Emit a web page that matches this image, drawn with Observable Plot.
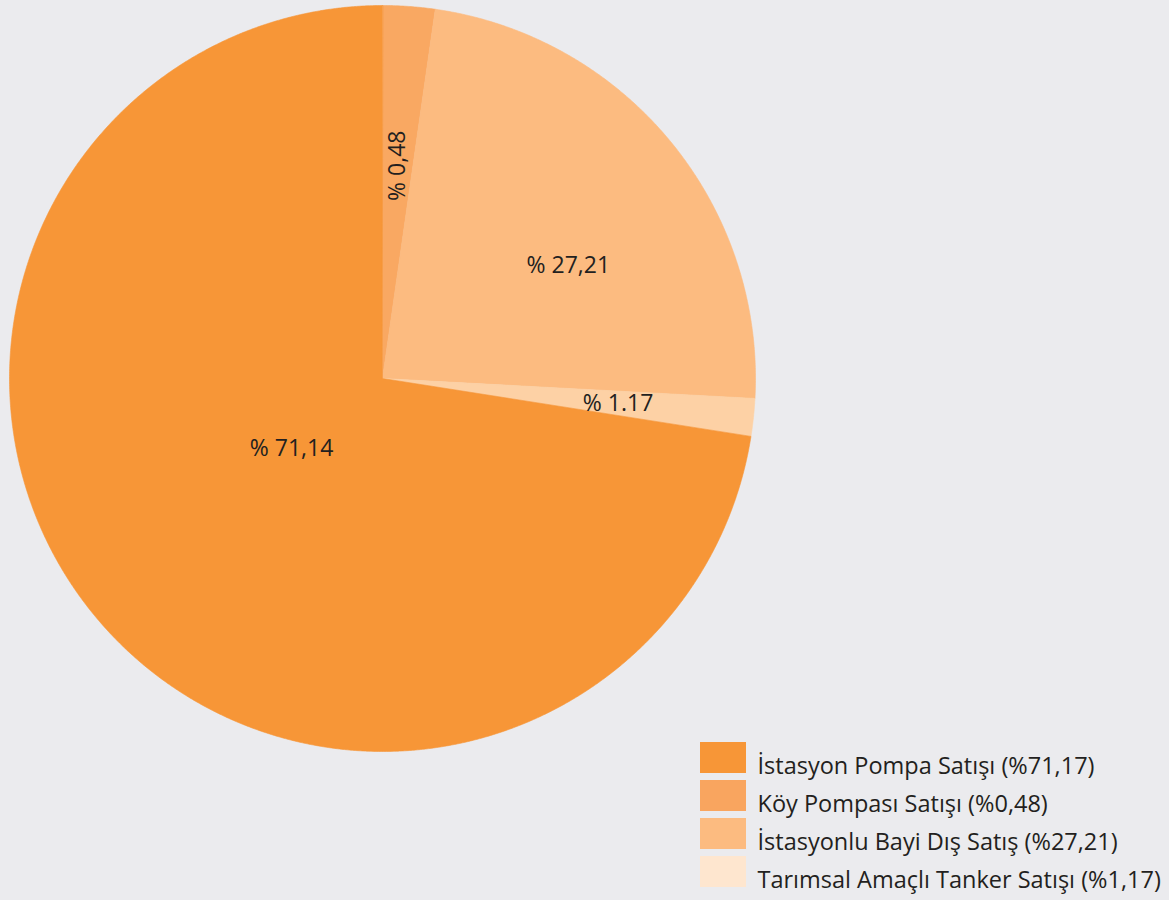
<!DOCTYPE html>
<html>
<head>
<meta charset="utf-8">
<script src="https://cdn.jsdelivr.net/npm/d3@7"></script>
<script src="https://cdn.jsdelivr.net/npm/@observablehq/plot@0.6"></script>
<style>
  html, body { margin: 0; padding: 0; background: #EBEBEE; }
  #chart svg { display: block; }
</style>
</head>
<body>
<div id="chart"></div>
<script>
// ---- data ----
const categories = ["İstasyon Pompa Satışı", "Köy Pompası Satışı", "İstasyonlu Bayi Dış Satış", "Tarımsal Amaçlı Tanker Satışı"];
const legendShares = ["%71,17", "%0,48", "%27,21", "%1,17"];
const sliceLabels = ["% 71,14", "% 0,48", "% 27,21", "% 1.17"];
// slice sizes as drawn in the picture (percent of the circle)
const drawnShares = [72.52, 2.26, 23.59, 1.63];
// drawing order, clockwise from 12 o'clock
const drawOrder = [1, 2, 3, 0];

// ---- style ----
const sliceColors = ["#F79637", "#F9A862", "#FCBB80", "#FDD1A5"];
const legendColors = ["#F79637", "#F9A55F", "#FCBB80", "#FEE6CF"];
const labelRadius = [0.308, 0.572, 0.583, 0.635];
const labelAngleOffset = [2.9, 0, 8.1, 0];
const labelRotate = [0, -90, 0, 0];

const cx = 382, cy = 378, R = 373;
const font = "'Open Sans', sans-serif";

// build slices
let acc = 0;
const slices = drawOrder.map(i => {
  const a0 = acc / 100 * 2 * Math.PI;
  acc += drawnShares[i];
  const a1 = acc / 100 * 2 * Math.PI;
  return {i, a0, a1};
});

const slicePts = slices.map(s => {
  const pts = [{x: cx, y: cy}];
  const n = Math.max(8, Math.ceil((s.a1 - s.a0) / (Math.PI / 720)));
  for (let k = 0; k <= n; k++) {
    const t = s.a0 + (s.a1 - s.a0) * k / n;
    pts.push({x: cx + R * Math.sin(t), y: cy - R * Math.cos(t)});
  }
  return {i: s.i, pts};
});

const labelData = slices.map(s => {
  const mid = (s.a0 + s.a1) / 2 + labelAngleOffset[s.i] * Math.PI / 180;
  const r = R * labelRadius[s.i];
  return {text: sliceLabels[s.i], x: cx + r * Math.sin(mid), y: cy - r * Math.cos(mid), rot: labelRotate[s.i]};
});

const legendData = categories.map((c, i) => ({name: c, text: `${c} (${legendShares[i]})`, i}));

const marks = [];
for (const s of slicePts) {
  marks.push(Plot.line(s.pts, {x: "x", y: "y", fill: sliceColors[s.i], stroke: sliceColors[s.i], strokeWidth: 0.6, curve: "linear-closed"}));
}
for (const L of labelData) {
  marks.push(Plot.text([L], {x: "x", y: "y", text: "text", rotate: L.rot, fontSize: 23, fill: "#231F20", fontFamily: font}));
}
marks.push(Plot.rect(legendData, {x1: 700, x2: 746, y1: d => 742 + d.i * 38, y2: d => 773 + d.i * 38, fill: d => legendColors[d.i]}));
marks.push(Plot.text(legendData, {x: 757, y: d => 773 + d.i * 38, text: "text", textAnchor: "start", lineAnchor: "bottom", fontSize: 23.5, fill: "#231F20", fontFamily: font}));

const chart = Plot.plot({
  width: 1169,
  height: 900,
  margin: 0,
  x: {type: "identity", axis: null},
  y: {type: "identity", axis: null},
  style: {background: "#EBEBEE", fontFamily: font},
  marks
});
document.getElementById("chart").appendChild(chart);
</script>
</body>
</html>
